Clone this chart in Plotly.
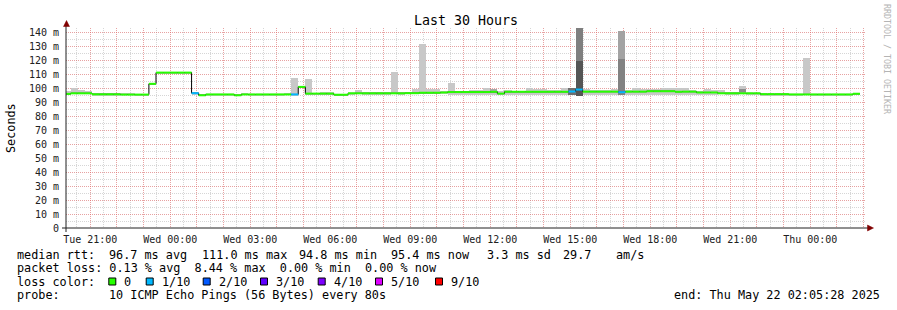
import plotly.graph_objects as go
from datetime import datetime, timedelta

# ---------------- data ----------------
FIRST_STEP = datetime(2025, 5, 20, 20, 0, 0)   # start of first 16-minute consolidation step
STEP_MINUTES = 16
RANGE_START = "2025-05-20 20:05:28"
RANGE_END = "2025-05-22 02:05:28"

# median rtt per step (ms)
median = [
    95.8, 96.2, 96.2, 96.2, 95.5, 95.5, 95.5, 95.5, 95.3, 95.3,
    95.3, 95.3, 103.0, 111.0, 111.0, 111.0, 111.0, 111.0, 96.3, 94.8,
    95.4, 95.4, 95.4, 95.4, 94.8, 95.4, 95.4, 95.4, 95.4, 95.4,
    95.4, 95.4, 95.4, 100.8, 96.0, 96.0, 96.0, 96.0, 95.2, 95.2,
    96.2, 96.2, 96.2, 96.2, 96.2, 96.2, 96.2, 96.2, 96.3, 96.3,
    96.6, 96.6, 96.6, 96.8, 97.1, 97.1, 97.1, 97.1, 97.1, 97.1,
    97.3, 96.0, 97.3, 97.3, 97.3, 97.3, 97.3, 97.3, 97.3, 97.3,
    97.3, 97.5, 98.9, 97.4, 97.4, 97.4, 97.4, 97.4, 97.0, 97.4,
    97.4, 97.4, 97.7, 97.7, 97.7, 97.7, 97.3, 97.4, 97.4, 96.8,
    96.8, 96.8, 96.2, 96.2, 96.2, 96.2, 96.2, 96.2, 95.6, 95.6,
    95.6, 95.6, 95.4, 95.4, 95.4, 95.4, 95.4, 95.4, 95.4, 95.4,
    95.4, 95.9,
]

# lost pings (out of 10) per step
loss = [
    0, 0, 0, 0, 0, 0, 0, 0, 0, 0,
    0, 0, 0, 0, 0, 0, 0, 0, 1, 0,
    0, 0, 0, 0, 0, 0, 0, 0, 0, 0,
    0, 0, 1, 0, 0, 0, 0, 0, 0, 0,
    0, 0, 0, 0, 0, 0, 0, 0, 0, 0,
    0, 0, 0, 0, 0, 0, 0, 0, 0, 0,
    0, 0, 0, 0, 0, 0, 0, 0, 0, 0,
    0, 1, 1, 0, 0, 0, 0, 0, 1, 0,
    0, 0, 0, 0, 0, 0, 0, 0, 0, 0,
    0, 0, 0, 0, 0, 0, 0, 0, 0, 0,
    0, 0, 0, 0, 0, 0, 0, 0, 0, 0,
    0, 0,
]

# smoke (ping spread) per step, ms
smoke_lo = [
    95.0, 95.4, 95.4, 95.4, 94.9, 94.9, 94.9, 94.9, 94.7, 94.7,
    94.7, 94.7, 102.5, 110.5, 110.5, 110.5, 110.5, 110.5, 95.3, 94.3,
    94.8, 94.8, 94.8, 94.8, 94.3, 94.8, 94.8, 94.8, 94.8, 94.8,
    94.8, 94.8, 94.6, 100.3, 95.3, 95.3, 95.3, 95.3, 94.6, 94.6,
    95.4, 95.4, 95.4, 95.4, 95.4, 95.4, 95.4, 95.4, 95.4, 95.4,
    95.4, 95.4, 95.4, 95.5, 95.0, 95.0, 95.0, 95.0, 95.0, 95.0,
    95.0, 95.0, 95.0, 95.0, 95.0, 95.0, 95.0, 95.0, 95.0, 95.0,
    95.0, 94.8, 94.5, 95.0, 95.0, 95.0, 95.0, 95.0, 95.0, 95.0,
    95.0, 95.0, 95.0, 95.0, 95.0, 95.0, 95.0, 95.0, 95.0, 95.0,
    95.0, 95.0, 95.4, 95.4, 95.4, 95.4, 95.4, 95.4, 94.9, 94.9,
    94.9, 94.9, 94.8, 94.8, 94.8, 94.8, 94.8, 94.8, 94.8, 94.8,
    94.8, 95.2,
]
smoke_hi = [
    97.9, 100.0, 98.6, 97.9, 96.3, 96.3, 96.3, 96.3, 96.3, 96.7,
    96.0, 96.0, 103.3, 111.3, 111.3, 111.3, 111.3, 111.3, 96.8, 95.4,
    95.9, 95.9, 95.9, 95.9, 95.4, 96.7, 95.9, 95.9, 95.9, 95.9,
    95.9, 96.7, 107.4, 101.1, 106.4, 96.5, 97.4, 97.4, 95.8, 95.8,
    96.6, 98.8, 96.8, 96.8, 96.8, 96.8, 111.7, 96.8, 97.5, 99.5,
    131.4, 99.5, 99.5, 97.8, 103.8, 97.6, 97.6, 98.6, 98.6, 100.0,
    99.5, 98.0, 98.8, 98.0, 97.8, 99.8, 99.3, 99.3, 98.5, 98.5,
    100.2, 99.8, 143.0, 99.5, 98.8, 98.8, 98.8, 99.5, 140.7, 98.8,
    100.3, 99.0, 99.3, 99.3, 100.2, 100.2, 100.2, 100.2, 98.8, 98.0,
    99.3, 98.6, 98.6, 96.8, 96.8, 101.4, 96.6, 96.6, 96.0, 96.0,
    96.0, 96.0, 95.8, 95.8, 121.5, 95.8, 95.8, 95.8, 95.8, 95.8,
    95.8, 96.2,
]

# denser (darker) smoke layers on a few steps
layer_step = [60, 71, 72, 72, 78, 78, 95]
layer_lo = [96.5, 95.0, 94.5, 94.5, 95.0, 95.0, 96.9]
layer_hi = [99.5, 99.8, 143.0, 119.3, 140.7, 120.7, 99.5]
layer_shade = ["#a8a8a8", "#6e6e6e", "#7f7f7f", "#555555", "#a3a3a3", "#828282", "#8c8c8c"]

Y_TICKS = [0, 10, 20, 30, 40, 50, 60, 70, 80, 90, 100, 110, 120, 130, 140]
Y_TICK_TEXT = ["0"] + [f"{v} m" for v in Y_TICKS[1:]]

LOSS_LEVELS = [0, 1, 2, 3, 4, 5, 9]
LOSS_COLORS = ["#26ff00", "#00b8ff", "#0059ff", "#5e00ff", "#7e00ff", "#dd00ff", "#ff0000"]
LOSS_LABELS = ["0", "1/10", "2/10", "3/10", "4/10", "5/10", "9/10"]

STATS_RTT = ["median rtt:", "96.7 ms avg", "111.0 ms max", "94.8 ms min", "95.4 ms now", "3.3 ms sd", "29.7", "am/s"]
STATS_LOSS = "packet loss: 0.13 % avg  8.44 % max  0.00 % min  0.00 % now"
PROBE = ["probe:", "10 ICMP Echo Pings (56 Bytes) every 80s"]
END_TEXT = "end: Thu May 22 02:05:28 2025"
TITLE = "Last 30 Hours"
WATERMARK = "RRDTOOL / TOBI OETIKER"

# ---------------- figure ----------------
W, H = 897, 310
L, R, T, B = 66, 31, 28, 82
PW, PH = W - L - R, H - T - B
FONT = "DejaVu Sans Mono"


def px_x(px):
    return (px - L) / PW


def px_y(py):
    return (T + PH - py) / PH


step = timedelta(minutes=STEP_MINUTES)
n = len(median)
starts = [FIRST_STEP + step * i for i in range(n + 1)]
centers = [FIRST_STEP + step * i + step / 2 for i in range(n)]
width_ms = STEP_MINUTES * 60 * 1000

fig = go.Figure()

# smoke: outer spread
fig.add_trace(go.Bar(
    x=centers, base=smoke_lo, y=[h - l for h, l in zip(smoke_hi, smoke_lo)],
    width=[width_ms] * n, marker=dict(color="#c8c8c8", line=dict(width=0)),
    hoverinfo="skip", showlegend=False))
# smoke: denser inner layers
fig.add_trace(go.Bar(
    x=[centers[i] for i in layer_step], base=layer_lo,
    y=[h - l for h, l in zip(layer_hi, layer_lo)],
    width=[width_ms] * len(layer_step),
    marker=dict(color=layer_shade, line=dict(width=0)),
    hoverinfo="skip", showlegend=False))

# median connecting line
fig.add_trace(go.Scatter(
    x=starts, y=median + [median[-1]], mode="lines",
    line=dict(color="black", width=1, shape="hv"),
    hoverinfo="skip", showlegend=False))

# loss-coloured median segments
for lvl, col in zip(LOSS_LEVELS, LOSS_COLORS):
    xs, ys = [], []
    for i in range(n):
        if loss[i] == lvl:
            xs += [starts[i], starts[i + 1], None]
            ys += [median[i], median[i], None]
    if xs:
        fig.add_trace(go.Scatter(
            x=xs, y=ys, mode="lines", line=dict(color=col, width=2),
            hoverinfo="skip", showlegend=False))

# x ticks: grid every hour, label every 3 hours
hour_ticks = []
hour_text = []
t = datetime(2025, 5, 20, 21, 0)
while t <= datetime(2025, 5, 22, 2, 0):
    hour_ticks.append(t)
    hour_text.append(t.strftime("%a %H:%M") if t.hour % 3 == 0 else "")
    t += timedelta(hours=1)

MGRID = "rgba(255,90,90,0.42)"
GRID = "rgba(120,120,120,0.3)"

fig.update_layout(
    width=W, height=H,
    margin=dict(l=L, r=R, t=T, b=B),
    paper_bgcolor="white", plot_bgcolor="white",
    barmode="overlay", bargap=0,
    font=dict(family=FONT, size=10, color="black"),
    title=dict(text=TITLE, x=0.5, xanchor="center", xref="paper",
               y=1 - 20 / H, yref="container", yanchor="middle",
               font=dict(family=FONT, size=13.3, color="black")),
    xaxis=dict(
        type="date", range=[RANGE_START, RANGE_END],
        tickvals=hour_ticks, ticktext=hour_text,
        showgrid=True, gridcolor=MGRID, griddash="1px,1px", gridwidth=1,
        minor=dict(dtick=30 * 60 * 1000, tick0="2025-05-20 00:00:00",
                   showgrid=True, gridcolor=GRID, griddash="1px,1px", gridwidth=1),
        showline=False, zeroline=False, ticks="", ticklabelstandoff=4,
        tickfont=dict(family=FONT, size=10, color="#202020"),
    ),
    yaxis=dict(
        range=[0, PH / 1.4], tickvals=Y_TICKS, ticktext=Y_TICK_TEXT,
        showgrid=True, gridcolor=MGRID, griddash="1px,1px", gridwidth=1,
        minor=dict(dtick=5, tick0=0, showgrid=True, gridcolor=GRID,
                   griddash="1px,1px", gridwidth=1),
        showline=False, zeroline=False, ticks="", ticklabelstandoff=6,
        tickfont=dict(family=FONT, size=10, color="#202020"),
    ),
)

# axis lines and arrows
AX = "#202020"
ARROW = "#800000"
fig.add_shape(type="line", xref="paper", yref="paper",
              x0=px_x(62), x1=px_x(869), y0=0, y1=0, line=dict(color=AX, width=1))
fig.add_shape(type="line", xref="paper", yref="paper",
              x0=0, x1=0, y0=px_y(232), y1=px_y(25), line=dict(color=AX, width=1))
fig.add_shape(type="path", xref="paper", yref="paper",
              path=f"M {px_x(63.5)} {px_y(26.5)} L {px_x(69.5)} {px_y(26.5)} L {px_x(66.5)} {px_y(20.5)} Z",
              fillcolor=ARROW, line=dict(color=ARROW, width=0.5))
fig.add_shape(type="path", xref="paper", yref="paper",
              path=f"M {px_x(867.5)} {px_y(225)} L {px_x(867.5)} {px_y(231)} L {px_x(873.5)} {px_y(228)} Z",
              fillcolor=ARROW, line=dict(color=ARROW, width=0.5))


def text(px, py, s, size=11.8, anchor="left", color="black", angle=0):
    fig.add_annotation(x=px_x(px), y=px_y(py), xref="paper", yref="paper",
                       text=s, showarrow=False, xanchor=anchor, yanchor="middle",
                       textangle=angle, borderpad=0,
                       font=dict(family=FONT, size=size, color=color))


# y-axis title
text(11, 128, "Seconds", size=11.8, anchor="center", angle=-90)
# watermark
text(887, 59, WATERMARK, size=8.3, anchor="center", color="#b4b4b4", angle=90)

# legend / statistics
rtt_x = [16, 108.3, 201, 298, 390, 485.7, 562, 615]
for xp, s in zip(rtt_x, STATS_RTT):
    text(xp, 255, s)
text(16, 268.3, STATS_LOSS)
text(16, 281.7, "loss color:")
sq_x = [108.3, 145.7, 202.7, 260, 317.7, 375, 435]
for xp, col, lab in zip(sq_x, LOSS_COLORS, LOSS_LABELS):
    fig.add_shape(type="rect", xref="paper", yref="paper",
                  x0=px_x(xp + 0.5), x1=px_x(xp + 7.5), y0=px_y(285), y1=px_y(278),
                  fillcolor=col, line=dict(color="black", width=1))
    text(xp + 15, 281.7, lab)
text(16, 295, PROBE[0])
text(108.3, 295, PROBE[1])
text(881, 295, END_TEXT, anchor="right")

fig.write_html("out.html")
